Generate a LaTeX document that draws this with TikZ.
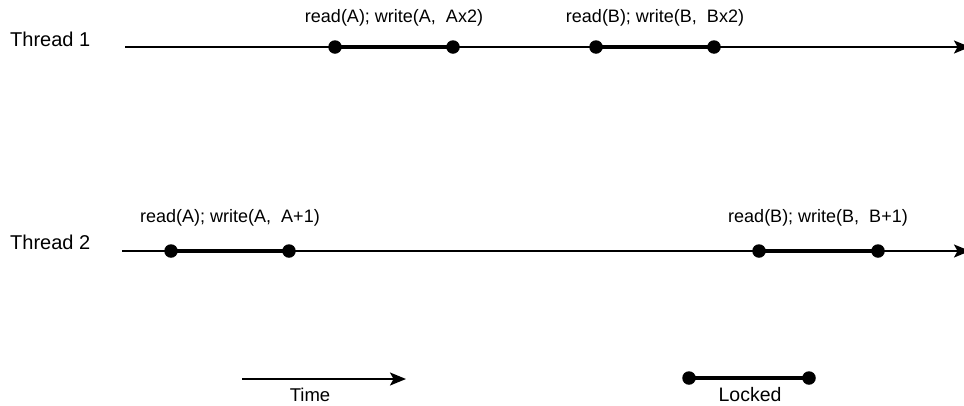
\documentclass[tikz,border=0pt]{standalone}
\usepackage{fontspec}
\setmainfont{Liberation Sans}
\usetikzlibrary{arrows.meta}
\begin{document}
\begin{tikzpicture}[x=1pt,y=-1pt,
  timeline/.style={line width=1.8pt,-{Stealth[length=16pt,width=13pt,inset=3.5pt]}},
  lockbar/.style={line width=4.6pt},
  lockdot/.style={circle,fill=black,inner sep=0pt,minimum size=13.5pt},
  opnote/.style={font=\fontsize{18}{21}\selectfont,inner sep=0pt},
  threadname/.style={font=\fontsize{20}{24}\selectfont,inner sep=0pt,anchor=west},
  legendnote/.style={font=\fontsize{18.5}{22}\selectfont,inner sep=0pt}]
\useasboundingbox (0,0) rectangle (964,405);

% thread names
\node[threadname] (t1) at (10,39) {Thread 1};
\node[threadname] (t2) at (10,242) {Thread 2};

% time lines, running off the right edge
\coordinate (s1) at (125,47);
\coordinate (e1) at (970,47);
\coordinate (s2) at (122,251);
\coordinate (e2) at (970,251);
\draw[timeline] (s1) -- (e1);
\draw[timeline] (s2) -- (e2);

% thread 1 locked sections
\node[lockdot] (a1) at (335,47) {};
\node[lockdot] (a2) at (453,47) {};
\node[lockdot] (b1) at (596,47) {};
\node[lockdot] (b2) at (714,47) {};
\draw[lockbar] (a1.center) -- (a2.center);
\draw[lockbar] (b1.center) -- (b2.center);
\node[opnote] (la) at (394,18) {read(A);\ write(A,\ \ Ax2)};
\node[opnote] (lb) at (655,18) {read(B);\ write(B,\ \ Bx2)};

% thread 2 locked sections
\node[lockdot] (c1) at (171,251) {};
\node[lockdot] (c2) at (289,251) {};
\node[lockdot] (d1) at (759,251) {};
\node[lockdot] (d2) at (878,251) {};
\draw[lockbar] (c1.center) -- (c2.center);
\draw[lockbar] (d1.center) -- (d2.center);
\node[opnote] (lc) at (230,218) {read(A);\ write(A,\ \ A+1)};
\node[opnote] (ld) at (818,218) {read(B);\ write(B,\ \ B+1)};

% legend
\coordinate (ts) at (242,379);
\coordinate (te) at (406,379);
\draw[timeline] (ts) -- (te);
\node[legendnote] (time) at (310,395) {Time};
\node[lockdot] (k1) at (689,378) {};
\node[lockdot] (k2) at (809,378) {};
\draw[lockbar] (k1.center) -- (k2.center);
\node[legendnote,font=\fontsize{19.5}{23}\selectfont] (locked) at (750,395) {Locked};
\end{tikzpicture}
\end{document}
